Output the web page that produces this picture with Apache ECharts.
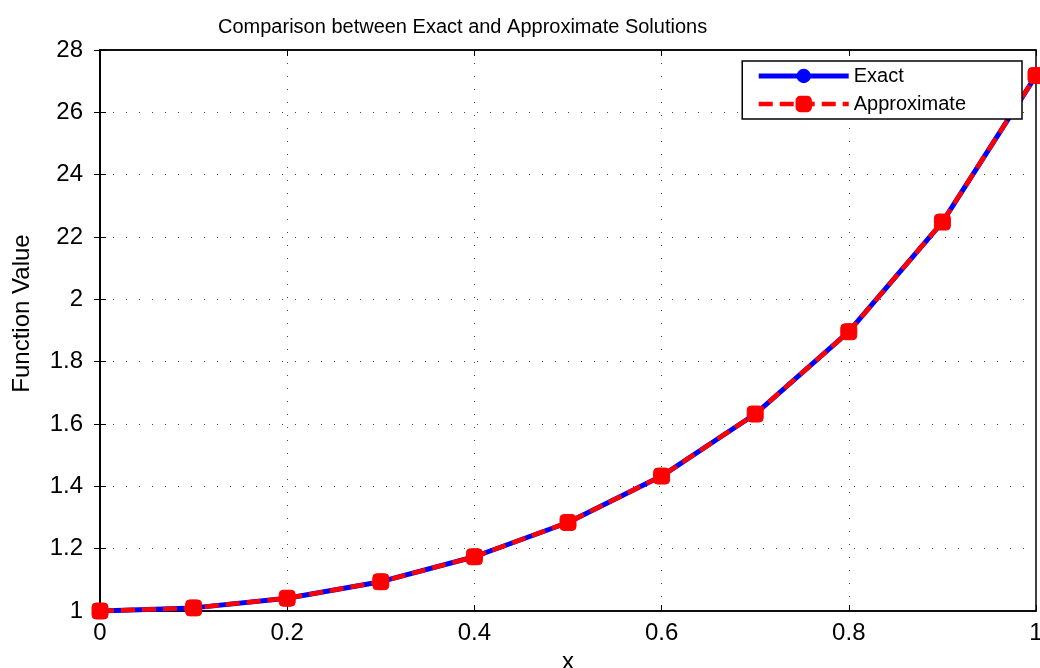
<!DOCTYPE html>
<html>
<head>
<meta charset="utf-8">
<script src="https://cdn.jsdelivr.net/npm/echarts@6/dist/echarts.min.js"></script>
<style>html,body{margin:0;padding:0;background:#fff}#c{width:1040px;height:668px}</style>
</head>
<body>
<div id="c"></div>
<script>
const xValues = [0, 0.1, 0.2, 0.3, 0.4, 0.5, 0.6, 0.7, 0.8, 0.9, 1.0];
const exactValues = [1.000, 1.010, 1.041, 1.094, 1.174, 1.284, 1.433, 1.632, 1.896, 2.248, 2.718];
const approxValues = [1.000, 1.010, 1.041, 1.094, 1.174, 1.284, 1.433, 1.632, 1.896, 2.248, 2.718];
const xTickLabels = ['0', '0.2', '0.4', '0.6', '0.8', '1'];
const yTickLabels = ['1', '1.2', '1.4', '1.6', '1.8', '2', '22', '24', '26', '28'];

const chart = echarts.init(document.getElementById('c'), null, {renderer: 'canvas'});
const font = '"Liberation Sans", Arial, sans-serif';
const tickStyle = {show: true, inside: true, length: 6, lineStyle: {color: '#000', width: 1}};
const gridLine = {show: true, lineStyle: {color: '#444', type: [1, 12], width: 1}};

chart.setOption({
  animation: false,
  backgroundColor: '#fff',
  title: {
    text: 'Comparison between Exact and Approximate Solutions',
    left: 213, top: 12,
    textStyle: {fontFamily: font, fontSize: 20, fontWeight: 'normal', color: '#000'}
  },
  legend: {
    right: 18, top: 61,
    orient: 'vertical',
    backgroundColor: '#fff',
    borderColor: '#000', borderWidth: 1.5, borderRadius: 0,
    padding: [5, 56, 5, 14],
    itemWidth: 90, itemHeight: 18, itemGap: 8,
    textStyle: {fontFamily: font, fontSize: 20, color: '#000'},
    data: [
      {name: 'Exact', lineStyle: {width: 5}},
      {name: 'Approximate', lineStyle: {width: 4.5}}
    ]
  },
  grid: {left: 100, right: 4, top: 50, bottom: 57, outerBoundsMode: 'none', containLabel: false,
    show: true, borderColor: '#000', borderWidth: 1.5, backgroundColor: 'transparent'},
  xAxis: [{
    type: 'value', min: 0, max: 1, interval: 0.2,
    name: 'x', nameLocation: 'middle', nameGap: 37,
    nameTextStyle: {fontFamily: font, fontSize: 24, color: '#000'},
    axisLine: {show: true, lineStyle: {color: '#000', width: 1.5}},
    axisTick: tickStyle,
    axisLabel: {margin: 10, fontFamily: font, fontSize: 24, color: '#000',
      formatter: v => xTickLabels[Math.round(v / 0.2)]},
    splitLine: gridLine
  }, {
    type: 'value', min: 0, max: 1, interval: 0.2, position: 'top',
    axisLine: {show: true, lineStyle: {color: '#000', width: 1.5}},
    axisTick: tickStyle, axisLabel: {show: false}, splitLine: {show: false}
  }],
  yAxis: [{
    type: 'value', min: 1, max: 2.8, interval: 0.2,
    name: 'Function Value', nameLocation: 'middle', nameGap: 66,
    nameTextStyle: {fontFamily: font, fontSize: 24, color: '#000', padding: [0, 0, 0, 34]},
    axisLine: {show: true, lineStyle: {color: '#000', width: 1.5}},
    axisTick: tickStyle,
    axisLabel: {margin: 17, fontFamily: font, fontSize: 24, color: '#000',
      formatter: v => yTickLabels[Math.round((v - 1) / 0.2)]},
    splitLine: gridLine
  }, {
    type: 'value', min: 1, max: 2.8, interval: 0.2, position: 'right',
    axisLine: {show: true, lineStyle: {color: '#000', width: 1.5}},
    axisTick: tickStyle, axisLabel: {show: false}, splitLine: {show: false}
  }],
  series: [{
    name: 'Exact', type: 'line',
    data: xValues.map((x, i) => [x, exactValues[i]]),
    symbol: 'circle', symbolSize: 16,
    lineStyle: {color: '#0000ff', width: 5},
    itemStyle: {color: '#0000ff'},
    z: 2
  }, {
    name: 'Approximate', type: 'line',
    data: xValues.map((x, i) => [x, approxValues[i]]),
    symbol: 'roundRect', symbolSize: 16,
    lineStyle: {color: '#ff0000', width: 4.5, type: [14, 7]},
    itemStyle: {color: '#ff0000', borderColor: '#ff0000', borderWidth: 1},
    z: 3
  }]
});
</script>
</body>
</html>
